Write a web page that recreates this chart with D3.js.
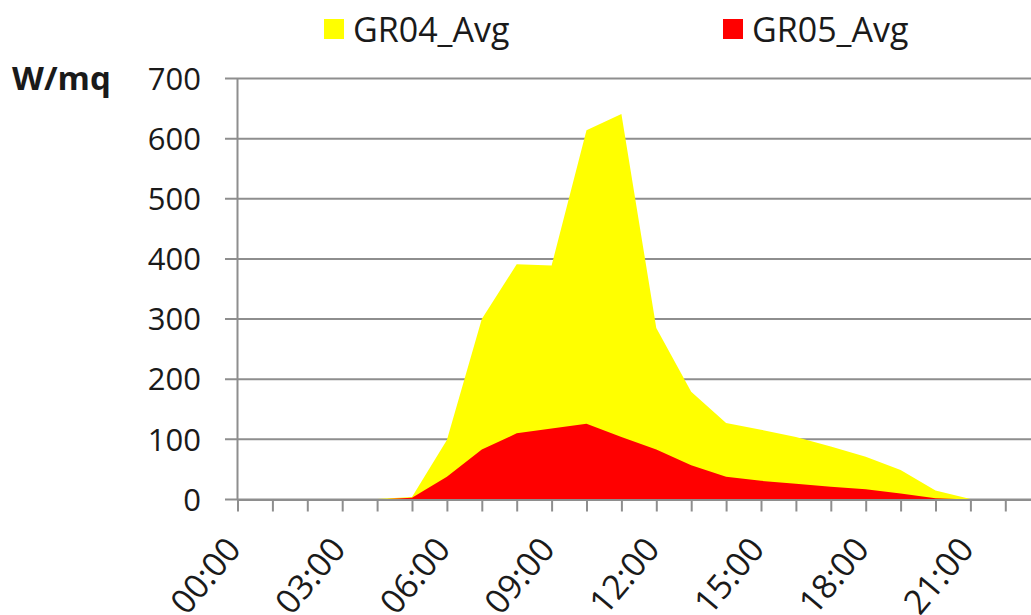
<!DOCTYPE html>
<html>
<head>
<meta charset="utf-8">
<script src="https://cdn.jsdelivr.net/npm/d3@7"></script>
<style>
  html, body { margin: 0; padding: 0; background: #fff; overflow: hidden; }
  svg { display: block; }
  text { font-family: "Open Sans", "Liberation Sans", sans-serif; fill: #1a1a1a; }
</style>
</head>
<body>
<svg id="chart" width="1031" height="615"></svg>
<script>
// Hourly categories along the x axis
const hours = ["00:00","01:00","02:00","03:00","04:00","05:00","06:00","07:00",
               "08:00","09:00","10:00","11:00","12:00","13:00","14:00","15:00",
               "16:00","17:00","18:00","19:00","20:00","21:00","22:00","23:00"];

// Average irradiance per hour (W/mq)
const gr04 = [0,0,0,0,1,4,99,300,391,389,614,641,285,179,127,116,104,88,71,49,15,1,0,0];
const gr05 = [0,0,0,0,0,3,38,83,110,118,126,104,83,57,38,31,26,21,17,10,2,0,0,0];

const yTicks = [0,100,200,300,400,500,600,700];
const xLabelEvery = 3;

const seriesNames = ["GR04_Avg", "GR05_Avg"];
const seriesColors = ["#ffff00", "#ff0000"];

const svg = d3.select("#chart");
const gridColor = "#8e8e8e";

const x = d3.scaleLinear().domain([0, hours.length - 1]).range([237.5, 237.5 + 23 * 34.9]);
const y = d3.scaleLinear().domain([0, 700]).range([499.5, 78.5]);

// Horizontal gridlines, extending left of the axis as tick stubs
svg.append("g")
  .selectAll("line")
  .data(yTicks)
  .join("line")
  .attr("x1", 225).attr("x2", 1031)
  .attr("y1", d => y(d)).attr("y2", d => y(d))
  .attr("stroke", gridColor).attr("stroke-width", 2);

// Value axis labels
svg.append("g")
  .selectAll("text")
  .data(yTicks)
  .join("text")
  .attr("x", 201)
  .attr("y", d => y(d))
  .attr("dy", "0.36em")
  .attr("text-anchor", "end")
  .style("font-size", "31px")
  .text(d => d);

// Areas: GR04 behind, GR05 in front
const area = d3.area()
  .x((d, i) => x(i))
  .y0(y(0))
  .y1(d => y(d));

svg.append("path").attr("d", area(gr04)).attr("fill", seriesColors[0]);
svg.append("path").attr("d", area(gr05)).attr("fill", seriesColors[1]);

// Vertical axis line
svg.append("line")
  .attr("x1", x(0)).attr("x2", x(0))
  .attr("y1", y(700)).attr("y2", y(0))
  .attr("stroke", gridColor).attr("stroke-width", 2);

// Category axis with a tick at every hour
const xAxis = d3.axisBottom(x)
  .tickValues(d3.range(hours.length))
  .tickSize(12)
  .tickSizeOuter(0)
  .tickFormat("");
const gx = svg.append("g").attr("transform", `translate(0,${y(0)})`).call(xAxis);
gx.select(".domain").attr("stroke", gridColor).attr("stroke-width", 2);
gx.selectAll(".tick line").attr("stroke", gridColor).attr("stroke-width", 2);

// Rotated hour labels every three hours
svg.append("g")
  .selectAll("text")
  .data(hours.map((h, i) => ({ h, i })).filter(d => d.i % xLabelEvery === 0))
  .join("text")
  .attr("transform", d => `translate(${x(d.i) + 5},${550}) rotate(-50)`)
  .attr("text-anchor", "end")
  .style("font-size", "34px")
  .text(d => d.h);

// Unit label
svg.append("text")
  .attr("x", 12).attr("y", 90)
  .style("font-size", "33px")
  .style("font-weight", "bold")
  .text("W/mq");

// Legend
const legendX = [324, 723];
const lg = svg.append("g");
seriesNames.forEach((name, k) => {
  lg.append("rect")
    .attr("x", legendX[k]).attr("y", 19)
    .attr("width", 20).attr("height", 20)
    .attr("fill", seriesColors[k]);
  lg.append("text")
    .attr("x", legendX[k] + 29).attr("y", 42)
    .style("font-size", "34px")
    .text(name);
});
</script>
</body>
</html>
